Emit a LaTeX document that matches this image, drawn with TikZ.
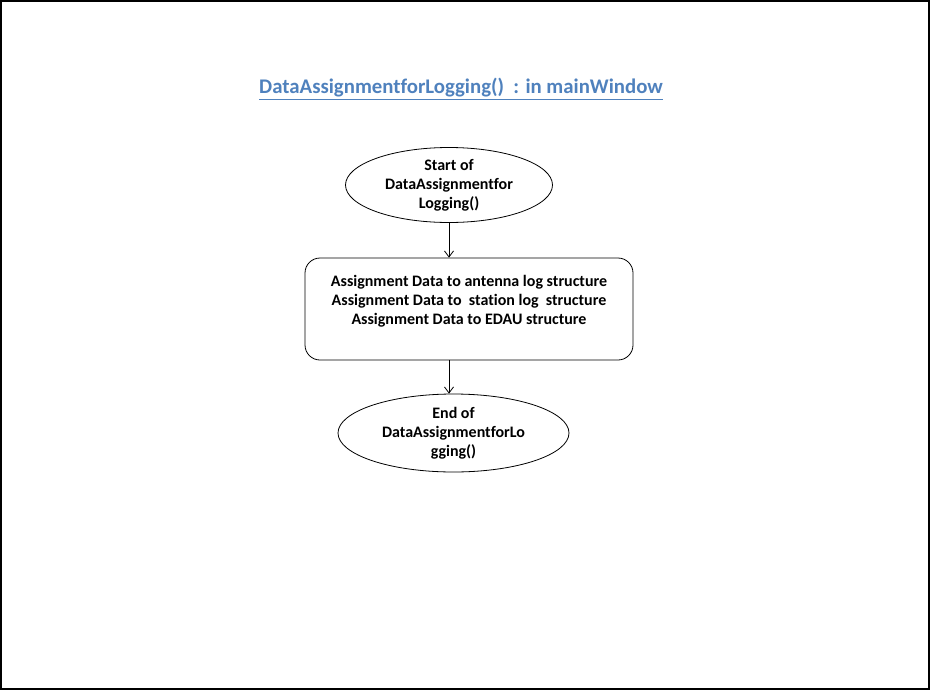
\documentclass[tikz,border=0pt]{standalone}
\usepackage{fontspec}
\setmainfont{Carlito}[Ligatures={NoCommon}]
\usetikzlibrary{shapes.geometric,arrows.meta}
\definecolor{titleblue}{HTML}{4F81BD}
\tikzset{
  flow/.style={draw=black, line width=0.8pt, font=\fontsize{16}{19}\selectfont\bfseries, align=center, inner sep=0pt},
  term/.style={flow, ellipse},
  proc/.style={flow, rectangle, rounded corners=15pt},
  conn/.style={draw=black, line width=0.8pt, -{Straight Barb[length=6pt,width=9pt]}}
}
\begin{document}
\begin{tikzpicture}[x=1pt,y=-1pt]
\useasboundingbox (0,0) rectangle (931,691);
\draw[line width=1.3pt] (1,1) rectangle (929,689);
\node[font=\fontsize{20.8}{24}\selectfont\bfseries, text=titleblue, inner sep=0pt] (title) at (461,89)
  {\underline{DataAssignmentforLogging()\ \ : in mainWindow}};
\node[term, minimum width=207pt, minimum height=75pt] (start) at (449,185)
  {Start of\\DataAssignmentfor\\Logging()};
\node[proc, minimum width=328pt, minimum height=102pt] (box) at (469,309)
  {Assignment Data to antenna log structure\\Assignment Data to\ \ station log\ \ structure\\Assignment Data to EDAU structure\\\mbox{}};
\node[term, minimum width=231pt, minimum height=78pt] (end) at (453.5,433)
  {End of\\DataAssignmentforLo\\gging()};
\draw[conn] (start.south) -- (start.south |- box.north);
\draw[conn] (start.south |- box.south) -- (start.south |- end.north);
\end{tikzpicture}
\end{document}
